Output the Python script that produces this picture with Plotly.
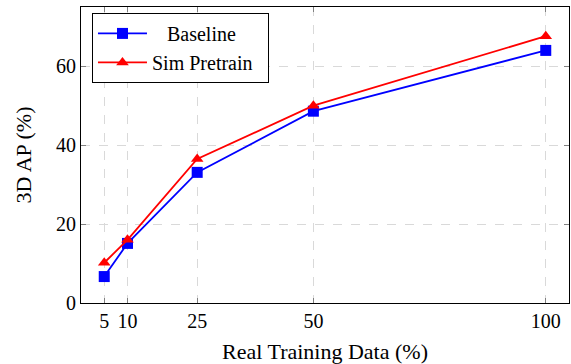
import plotly.graph_objects as go

x_vals = [5, 10, 25, 50, 100]
baseline = [6.7, 15.1, 33.1, 48.6, 64.0]
sim_pretrain = [10.2, 16.0, 36.5, 50.0, 67.6]
x_ticks = [5, 10, 25, 50, 100]
y_ticks = [0, 20, 40, 60]
series_names = ["Baseline", "Sim Pretrain"]

font_family = "Liberation Serif"
NBSP = "\u00a0"

fig = go.Figure()
fig.add_trace(go.Scatter(
    x=x_vals, y=baseline, mode="lines+markers", name=NBSP * 3 + series_names[0],
    line=dict(color="#0000ff", width=1.8),
    marker=dict(symbol="square", size=11, color="#0000ff"),
))
fig.add_trace(go.Scatter(
    x=x_vals, y=sim_pretrain, mode="lines+markers", name=series_names[1] + NBSP * 2,
    line=dict(color="#ff0000", width=1.8),
    marker=dict(symbol="triangle-up", size=11, color="#ff0000"),
))

axis_common = dict(
    showline=True, linecolor="black", linewidth=1, mirror="ticks",
    ticks="inside", ticklen=5, tickcolor="#808080", tickwidth=1,
    showgrid=True, gridcolor="#d9d9d9", griddash="dash", gridwidth=1,
    zeroline=False, automargin=False,
    tickfont=dict(size=20, color="black", family=font_family),
)

fig.update_xaxes(
    range=[0, 105], tickvals=x_ticks, ticktext=[str(t) for t in x_ticks],
    title=dict(text="Real Training Data (%)", font=dict(size=22, family=font_family, color="black"), standoff=16),
    **axis_common,
)
fig.update_yaxes(
    range=[0, 75], tickvals=y_ticks, ticktext=[str(t) for t in y_ticks],
    title=dict(text="3D AP (%)", font=dict(size=22, family=font_family, color="black"), standoff=18),
    **axis_common,
)

fig.update_layout(
    width=571, height=364,
    margin=dict(l=81, r=2, t=7, b=61),
    plot_bgcolor="white", paper_bgcolor="white",
    font=dict(family=font_family, color="black"),
    legend=dict(
        x=0.0225, y=0.98, xanchor="left", yanchor="top",
        bordercolor="black", borderwidth=1, bgcolor="white",
        font=dict(size=20, family=font_family, color="black"),
        itemwidth=49,
    ),
)

fig.write_html(
    "out.html",
    config={"displayModeBar": False},
    post_script="document.body.style.margin='0';document.body.style.overflow='hidden';",
)
